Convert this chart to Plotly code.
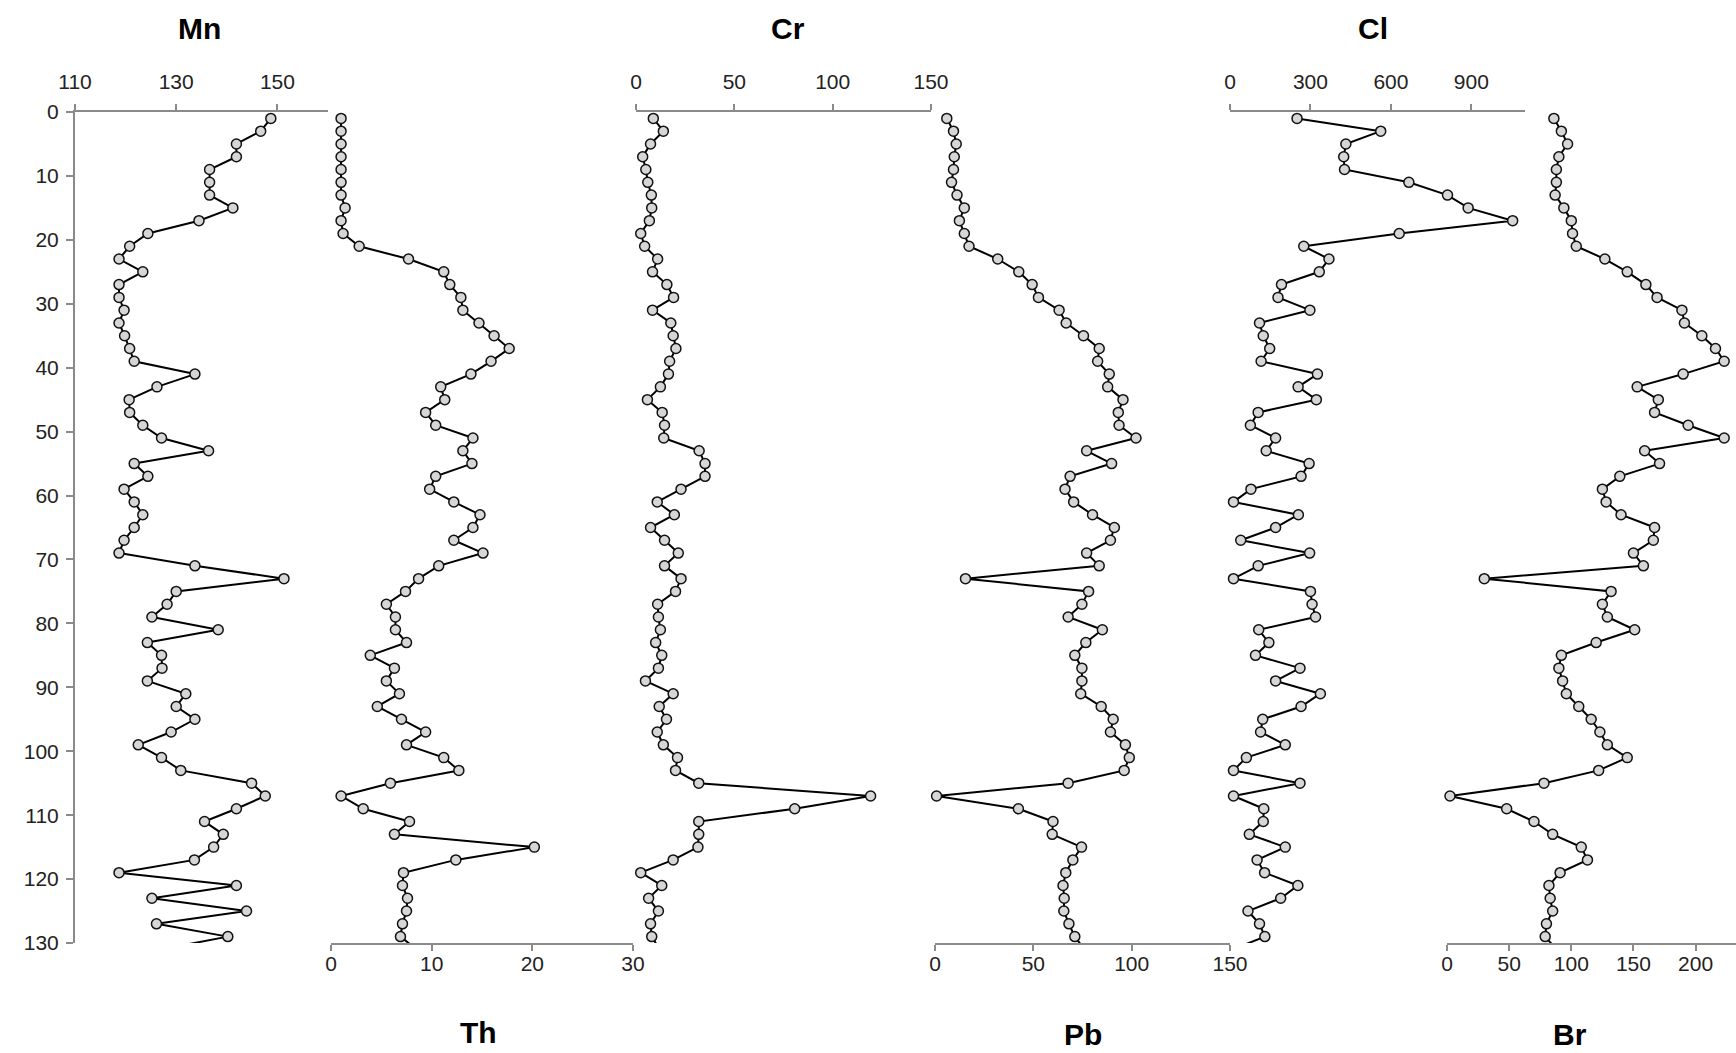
import plotly.graph_objects as go

# depth (cm) of each sample; the last one lies just below the plotted range
depth = [1, 3, 5, 7, 9, 11, 13, 15, 17, 19,
         21, 23, 25, 27, 29, 31, 33, 35, 37, 39,
         41, 43, 45, 47, 49, 51, 53, 55, 57, 59,
         61, 63, 65, 67, 69, 71, 73, 75, 77, 79,
         81, 83, 85, 87, 89, 91, 93, 95, 97, 99,
         101, 103, 105, 107, 109, 111, 113, 115, 117, 119,
         121, 123, 125, 127, 129, 131]

mn = [148.7, 146.7, 141.9, 141.9, 136.6, 136.6, 136.6, 141.2, 134.5, 124.4,
      120.8, 118.7, 123.4, 118.7, 118.7, 119.7, 118.7, 119.8, 120.8, 121.7,
      133.7, 126.2, 120.7, 120.8, 123.4, 127.1, 136.4, 121.7, 124.4, 119.7,
      121.7, 123.4, 121.7, 119.7, 118.7, 133.7, 151.3, 130.0, 128.2, 125.2,
      138.3, 124.3, 127.1, 127.2, 124.3, 131.9, 130.0, 133.7, 129.0, 122.5,
      127.1, 130.9, 144.9, 147.6, 141.9, 135.6, 139.3, 137.4, 133.6, 118.7,
      141.9, 125.2, 143.9, 126.1, 140.2, 127.0]

th = [1.0, 1.0, 1.0, 1.0, 1.0, 1.0, 1.0, 1.4, 1.0, 1.2,
      2.8, 7.7, 11.2, 11.8, 12.9, 13.1, 14.7, 16.2, 17.7, 15.9,
      13.9, 10.9, 11.3, 9.4, 10.4, 14.1, 13.1, 14.0, 10.4, 9.8,
      12.2, 14.8, 14.1, 12.2, 15.1, 10.7, 8.7, 7.4, 5.5, 6.4,
      6.4, 7.5, 3.9, 6.3, 5.5, 6.8, 4.6, 7.0, 9.4, 7.5,
      11.2, 12.7, 5.9, 1.0, 3.2, 7.8, 6.3, 20.2, 12.4, 7.2,
      7.1, 7.6, 7.5, 7.1, 6.9, 8.5]

cr = [8.8, 13.9, 7.4, 3.4, 5.0, 6.0, 7.8, 8.0, 6.8, 2.4,
      4.4, 11.0, 8.4, 15.7, 19.1, 8.4, 17.7, 18.9, 20.3, 17.1,
      16.5, 12.4, 5.8, 13.3, 14.5, 14.1, 32.1, 35.1, 35.1, 22.9,
      10.8, 19.5, 7.4, 14.5, 21.5, 14.5, 22.9, 20.1, 11.0, 11.4,
      12.4, 10.0, 13.1, 11.4, 4.8, 18.9, 11.8, 15.5, 10.8, 13.9,
      21.1, 20.1, 31.9, 119.3, 80.7, 31.9, 31.9, 31.5, 18.9, 2.4,
      13.1, 6.4, 11.4, 7.4, 8.0, 12.0]

pb = [6.0, 9.4, 10.8, 9.8, 9.4, 8.4, 11.2, 14.9, 12.4, 14.9,
      17.3, 31.9, 42.6, 49.4, 52.6, 63.1, 66.7, 75.5, 83.5, 82.7,
      88.6, 87.8, 95.6, 93.2, 93.6, 102.2, 77.1, 89.8, 68.7, 66.1,
      70.5, 80.1, 91.2, 89.2, 77.1, 83.5, 15.5, 78.1, 74.7, 67.7,
      85.1, 76.7, 71.1, 74.7, 74.7, 74.1, 84.5, 90.6, 89.2, 96.8,
      98.8, 96.2, 67.7, 0.8, 42.4, 60.0, 59.6, 74.5, 70.1, 66.5,
      65.1, 65.7, 65.5, 68.1, 71.1, 76.0]

cl = [250, 562, 432, 424, 427, 667, 811, 888, 1054, 631,
      275, 369, 333, 192, 179, 298, 110, 124, 148, 116,
      326, 254, 322, 105, 76, 170, 135, 295, 265, 78,
      13, 255, 170, 40, 297, 105, 13, 300, 306, 319,
      107, 145, 95, 261, 170, 337, 265, 122, 114, 206,
      61, 13, 261, 13, 126, 124, 72, 206, 101, 129,
      253, 189, 67, 110, 130, 10]

br = [86, 92, 97, 90, 88, 88, 87, 94, 100, 101,
      104, 127, 145, 160, 169, 189, 191, 205, 216, 223,
      190, 153, 170, 167, 194, 223, 159, 171, 139, 125,
      128, 140, 167, 166, 150, 158, 30, 132, 125, 129,
      151, 120, 92, 90, 93, 96, 106, 116, 123, 129,
      145, 122, 78, 2.4, 48, 70, 85, 108, 113, 91,
      82, 83, 85, 80, 79, 88]

depth_ticks = [0, 10, 20, 30, 40, 50, 60, 70, 80, 90, 100, 110, 120, 130]

# panel definitions: name, values, axis side, range, tick values
panels = [
    ("Mn", mn, "top", [110, 160], [110, 130, 150]),
    ("Th", th, "bottom", [0, 30], [0, 10, 20, 30]),
    ("Cr", cr, "top", [0, 150], [0, 50, 100, 150]),
    ("Pb", pb, "bottom", [0, 150], [0, 50, 100, 150]),
    ("Cl", cl, "top", [0, 1100], [0, 300, 600, 900]),
    ("Br", br, "bottom", [0, 232.5], [0, 50, 100, 150, 200]),
]

W, H = 1736, 1053
# pixel extents of each horizontal axis
px_domains = [(75, 328), (331, 633), (636, 931), (935, 1230), (1230, 1525), (1447, 1736)]
title_pos = [(199, 28), (478, 1032), (788, 28), (1083, 1034), (1373, 28), (1570, 1034)]

y_top, y_bot = 112, 943
y_domain = [1 - y_bot / H, 1 - y_top / H]

FONT = "Liberation Sans, Arial, sans-serif"
AXIS_COL = "#8a8a8a"
TICK_FONT = dict(family=FONT, size=21, color="#222222")

fig = go.Figure()
layout = dict(
    template="none",
    width=W, height=H,
    margin=dict(l=0, r=0, t=0, b=0, pad=0, autoexpand=False),
    paper_bgcolor="white", plot_bgcolor="rgba(0,0,0,0)",
    showlegend=False,
    annotations=[],
)

n_vis = len([d for d in depth if d <= 130])

for i, (name, vals, side, rng, tv) in enumerate(panels):
    xa = "x" if i == 0 else f"x{i+1}"
    key = "xaxis" if i == 0 else f"xaxis{i+1}"
    fig.add_trace(go.Scatter(
        x=vals, y=depth, xaxis=xa, yaxis="y", mode="lines",
        line=dict(color="black", width=2), hoverinfo="skip"))
    fig.add_trace(go.Scatter(
        x=vals[:n_vis], y=depth[:n_vis], xaxis=xa, yaxis="y", mode="markers",
        marker=dict(size=10, color="#d6d6d6", line=dict(color="#111111", width=1.5)),
        cliponaxis=False, name=name))
    x0, x1 = px_domains[i]
    layout[key] = dict(
        domain=[x0 / W, x1 / W], range=rng, side=side, anchor="y",
        automargin=False,
        showline=True, linecolor=AXIS_COL, linewidth=2,
        ticks="outside", ticklen=6, tickwidth=2, tickcolor=AXIS_COL,
        tickvals=tv, ticktext=[str(v) for v in tv], tickfont=TICK_FONT,
        ticklabelstandoff=(7 if side == "top" else -5),
        showgrid=False, zeroline=False, fixedrange=True,
    )
    tx, ty = title_pos[i]
    layout["annotations"].append(dict(
        text=f"<b>{name}</b>", x=tx / W, y=1 - ty / H, xref="paper", yref="paper",
        showarrow=False, xanchor="center", yanchor="middle",
        font=dict(family=FONT, size=30, color="black")))

layout["yaxis"] = dict(
    domain=y_domain, range=[130, 0], anchor="x", side="left",
    automargin=False,
    showline=True, linecolor=AXIS_COL, linewidth=2,
    ticks="outside", ticklen=7, tickwidth=2, tickcolor=AXIS_COL,
    tickvals=depth_ticks, tickfont=TICK_FONT, ticklabelstandoff=3,
    showgrid=False, zeroline=False, fixedrange=True,
)

fig.update_layout(**layout)
fig.write_html("out.html")
